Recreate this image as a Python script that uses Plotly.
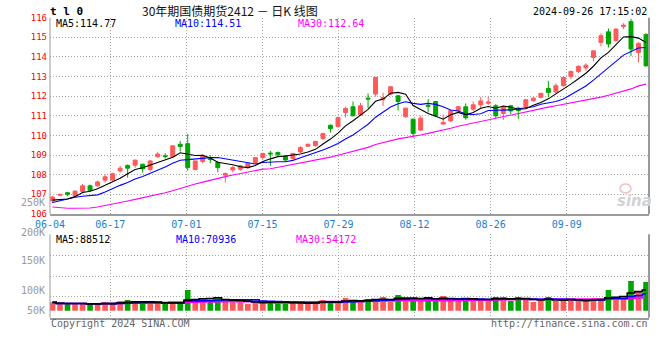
import plotly.graph_objects as go
import pandas as pd

W, H = 660, 360

# ---------------- data ----------------
holidays = ["2024-06-10", "2024-09-16", "2024-09-17"]
trade_days = [d for d in pd.bdate_range("2024-06-04", "2024-09-26")
              if d.strftime("%Y-%m-%d") not in holidays]
dates = [d.strftime("%m-%d") for d in trade_days]

opens = [106.66, 106.95, 107.08, 106.93, 107.14, 107.43, 107.43, 107.72, 107.73, 108.19,
         108.47, 108.48, 108.53, 108.26, 108.92, 108.96, 108.91, 109.55, 109.58, 108.26,
         108.67, 108.81, 108.62, 107.97, 108.24, 108.28, 108.36, 108.62, 108.87, 109.10,
         109.13, 108.96, 108.82, 109.16, 109.45, 109.48, 109.84, 110.52, 110.45, 111.17,
         111.46, 111.05, 111.90, 112.11, 111.82, 112.11, 112.02, 110.95, 110.83, 110.27,
         111.53, 111.73, 110.58, 110.74, 111.26, 111.46, 111.34, 111.56, 111.64, 111.51,
         111.12, 111.51, 111.39, 111.46, 111.77, 111.94, 112.39, 112.22, 112.53, 113.00,
         113.26, 113.44, 113.97, 114.74, 115.28, 114.83, 115.55, 115.80, 114.23, 115.15]
highs = [106.92, 107.04, 107.13, 107.20, 107.53, 107.50, 107.70, 108.00, 108.10, 108.45,
         108.52, 108.76, 108.56, 108.74, 109.15, 109.10, 109.50, 109.72, 110.08, 108.72,
         109.05, 108.99, 108.70, 108.10, 108.45, 108.50, 108.60, 108.90, 109.12, 109.21,
         109.18, 108.98, 109.12, 109.45, 109.58, 109.72, 110.12, 110.55, 110.95, 111.46,
         111.73, 111.65, 112.14, 112.98, 112.18, 112.52, 112.05, 111.42, 110.85, 111.00,
         111.85, 111.76, 111.07, 111.30, 111.50, 111.63, 111.73, 111.97, 111.97, 111.60,
         111.51, 111.56, 111.46, 111.85, 111.95, 112.18, 112.78, 112.65, 112.98, 113.30,
         113.58, 113.67, 114.35, 115.20, 115.45, 115.45, 115.72, 115.95, 114.75, 115.20]
lows = [106.55, 106.90, 106.90, 106.90, 107.05, 107.13, 107.38, 107.60, 107.70, 108.10,
        107.85, 108.35, 108.10, 108.16, 108.85, 108.82, 108.88, 109.18, 108.20, 108.22,
        108.58, 108.58, 108.14, 107.60, 108.12, 108.20, 108.30, 108.55, 108.80, 108.45,
        108.96, 108.68, 108.78, 109.10, 109.42, 109.43, 109.78, 110.15, 110.40, 110.91,
        110.98, 111.00, 111.39, 111.98, 111.51, 112.05, 111.26, 110.90, 109.89, 110.22,
        111.17, 110.95, 110.55, 110.70, 111.20, 110.80, 111.25, 111.34, 111.56, 110.88,
        110.78, 111.08, 110.85, 111.40, 111.70, 111.90, 111.94, 112.14, 112.50, 112.87,
        113.18, 113.30, 113.77, 114.54, 114.48, 114.80, 115.43, 114.05, 113.72, 113.50]
closes = [106.86, 106.99, 107.00, 107.16, 107.43, 107.20, 107.63, 107.89, 108.05, 108.33,
          108.33, 108.74, 108.30, 108.70, 109.05, 108.93, 109.47, 109.44, 108.36, 108.70,
          108.96, 108.77, 108.36, 108.06, 108.36, 108.45, 108.57, 108.87, 109.08, 109.06,
          109.01, 108.75, 109.08, 109.38, 109.55, 109.69, 110.10, 110.35, 110.91, 111.37,
          111.00, 111.51, 111.86, 112.96, 111.93, 112.48, 111.73, 111.39, 110.10, 110.88,
          111.49, 111.00, 110.66, 111.26, 111.46, 110.90, 111.56, 111.76, 111.70, 111.00,
          111.46, 111.25, 111.27, 111.82, 111.90, 112.14, 112.19, 112.53, 112.96, 113.26,
          113.52, 113.58, 114.31, 115.08, 114.66, 115.42, 115.62, 114.40, 114.69, 113.55]
volumes = [35000, 26600, 29400, 29400, 29400, 26600, 28000, 35000, 29400, 40600,
           44800, 35000, 35000, 29400, 35000, 29400, 35000, 35000, 86800, 49000,
           42000, 40600, 53200, 49000, 35000, 35000, 28000, 35000, 35000, 40600,
           29400, 29400, 35000, 35000, 29400, 35000, 44800, 40600, 30800, 53200,
           44800, 40600, 49000, 49000, 57400, 37800, 65800, 53200, 53200, 44800,
           53200, 40600, 61600, 44800, 40600, 53200, 49000, 49000, 44800, 57400,
           57400, 40600, 57400, 44800, 36400, 44800, 57400, 40600, 40600, 49000,
           40600, 40600, 53200, 49000, 86800, 53200, 57400, 124600, 78400, 120400]

# moving-average values visible at the start of the window
ma5_head = [106.70, 106.72, 106.76, 106.88]
ma10_head = [106.58, 106.68, 106.78, 106.85, 106.90, 106.92, 106.97, 107.12, 107.30]
ma30_head = [106.35, 106.31, 106.29, 106.29, 106.29, 106.30, 106.35, 106.42, 106.50, 106.58,
             106.66, 106.74, 106.82, 106.90, 106.98, 107.08, 107.18, 107.30, 107.42, 107.52,
             107.62, 107.72, 107.82, 107.90, 107.98, 108.05, 108.13, 108.20, 108.28]

price_ma_labels = ["MA5:114.77", "MA10:114.51", "MA30:112.64"]
vol_ma_labels = ["MA5:88512", "MA10:70936", "MA30:54172"]
vol_axis_labels = ["250K", "200K", "150K", "100K", "50K"]
title_text = "30年期国债期货2412 － 日K 线图"
symbol_text = "t l 0"
stamp_text = "2024-09-26 17:15:02"

# ---------------- derived ----------------
n = len(closes)
idx = list(range(n))
cs = pd.Series(closes)


def price_ma(head, k):
    roll = cs.rolling(k).mean().tolist()
    return head + roll[len(head):]


ma5 = price_ma(ma5_head, 5)
ma10 = price_ma(ma10_head, 10)
ma30 = price_ma(ma30_head, 30)

vs = pd.Series(volumes, dtype=float)
vma5 = vs.rolling(5, min_periods=1).mean().tolist()
vma10 = vs.rolling(10, min_periods=1).mean().tolist()
vma30 = vs.rolling(30, min_periods=1).mean().tolist()

UP = "#ff5a5a"
DN = "#00a600"
MA_COLORS = ["#000000", "#0000ff", "#ff00ff"]
MONO = "DejaVu Sans Mono"
GRID = "#a8a8a8"
AXIS = "#9a9a9a"
XLAB = "#1a7fd0"
vol_colors = [UP if c >= o else DN for o, c in zip(opens, closes)]

# ---------------- geometry (pixels) ----------------
PL, PR = 50, 649
MAIN_T, MAIN_B = 17.7, 213.9
VOL_T, VOL_B = 234.3, 317.7
X0, DX = 52.5, 7.513           # first candle centre, pixel spacing
x_lo = (PL - X0) / DX
x_hi = (PR - X0) / DX
GRID_X0, GRID_STEP = 110.3, 76.07
grid_x = [(GRID_X0 + k * GRID_STEP - X0) / DX for k in range(7)]
tickvals = [x_lo] + grid_x
ticktext = [dates[0]] + [dates[int(round(g))] for g in grid_x]

VOL_BASE_Y, K_PER_PX = 310.7, 4200.0
v_lo = -(VOL_B - VOL_BASE_Y) * K_PER_PX
v_hi = (VOL_BASE_Y - VOL_T) * K_PER_PX
v_grid = [v_lo + (v_hi - v_lo) * k / 4 for k in (1, 2, 3, 4)]


def fx(x):
    return x / W


def fy(y):
    return 1 - y / H


fig = go.Figure()

fig.add_trace(go.Candlestick(
    x=idx, open=opens, high=highs, low=lows, close=closes,
    increasing=dict(line=dict(color=UP, width=1), fillcolor=UP),
    decreasing=dict(line=dict(color=DN, width=1), fillcolor=DN),
    whiskerwidth=0, hoverinfo="skip", xaxis="x", yaxis="y"))

for vals, col in zip([ma30, ma10, ma5], MA_COLORS[::-1]):
    fig.add_trace(go.Scatter(x=idx, y=vals, mode="lines",
                             line=dict(color=col, width=1.1),
                             hoverinfo="skip", xaxis="x", yaxis="y"))

fig.add_trace(go.Bar(x=idx, y=volumes, marker=dict(color=vol_colors, line=dict(width=0)),
                     hoverinfo="skip", xaxis="x2", yaxis="y2"))
for vals, col in zip([vma30, vma10, vma5], MA_COLORS[::-1]):
    fig.add_trace(go.Scatter(x=idx, y=vals, mode="lines",
                             line=dict(color=col, width=1.6, shape="hvh"),
                             hoverinfo="skip", xaxis="x2", yaxis="y2"))

dom_x = [fx(PL), fx(PR)]
common_x = dict(domain=dom_x, range=[x_lo, x_hi], tickvals=tickvals, showgrid=True,
                gridcolor=GRID, griddash="1px,2px", gridwidth=1, zeroline=False,
                showline=True, linecolor=AXIS, linewidth=2, ticks="", fixedrange=True,
                automargin=False)

fig.update_layout(
    width=W, height=H, autosize=False,
    margin=dict(l=0, r=0, t=0, b=0, autoexpand=False),
    paper_bgcolor="white", plot_bgcolor="white",
    showlegend=False, bargap=0.25, boxgap=0.25,
    xaxis=dict(**common_x, anchor="y", ticktext=ticktext,
               tickfont=dict(family=MONO, size=10, color=XLAB),
               rangeslider=dict(visible=False)),
    yaxis=dict(domain=[fy(MAIN_B), fy(MAIN_T)], range=[106, 116], dtick=1, tick0=106,
               showgrid=True, gridcolor=GRID, griddash="1px,2px", zeroline=False,
               showline=False, ticks="", tickfont=dict(family=MONO, size=9, color="#ff0000"),
               ticklabelstandoff=2, fixedrange=True, automargin=False),
    xaxis2=dict(**common_x, anchor="y2", showticklabels=False),
    yaxis2=dict(domain=[fy(VOL_B), fy(VOL_T)], range=[v_lo, v_hi], tickvals=v_grid,
                showgrid=True, gridcolor=GRID, griddash="1px,2px", zeroline=False,
                showline=False, ticks="", showticklabels=False, fixedrange=True,
                automargin=False),
)

# frame lines (right side solid, left side thin) and the sina eye logo
shapes = []
for top, bot in [(MAIN_T, MAIN_B), (VOL_T, VOL_B)]:
    shapes.append(dict(type="line", xref="paper", yref="paper",
                       x0=fx(PR), x1=fx(PR), y0=fy(bot), y1=fy(top),
                       line=dict(color=AXIS, width=2)))
    shapes.append(dict(type="line", xref="paper", yref="paper",
                       x0=fx(PL), x1=fx(PL), y0=fy(bot), y1=fy(top),
                       line=dict(color=AXIS, width=1)))
shapes.append(dict(type="circle", xref="paper", yref="paper",
                   x0=fx(620), x1=fx(631), y0=fy(193), y1=fy(184),
                   line=dict(color="#f0c0c0", width=1.5)))
fig.update_layout(shapes=shapes)

ann = []


def txt(s, x, y, color, size, anchor="left", family=MONO):
    ann.append(dict(text=s, x=fx(x), y=fy(y), xref="paper", yref="paper",
                    xanchor=anchor, yanchor="middle", showarrow=False,
                    font=dict(family=family, size=size, color=color)))


txt("<b>" + symbol_text + "</b>", 48, 11.5, "#000000", 11)
txt(title_text, 140, 10.5, "#111111", 12, family="Noto Sans CJK SC")
txt(stamp_text, 649, 11.7, "#000000", 10, anchor="right")

for s, x, c in zip(price_ma_labels, [54, 173, 296], MA_COLORS):
    txt(s, x, 24, c, 10)
for s, x, c in zip(vol_ma_labels, [54, 174, 294], MA_COLORS):
    txt(s, x, 239.3, c, 10)

for s, y in zip(vol_axis_labels, [202, 232, 260.3, 290.3, 310.3]):
    txt(s, 47, y, "#999999", 10, anchor="right")

txt("Copyright 2024 SINA.COM", 49, 323, "#666666", 10)
txt("http://finance.sina.com.cn", 650, 323, "#666666", 10, anchor="right")

# sina watermark
txt("<b><i>sina</i></b>", 634, 201, "#d2d2d2", 15, anchor="center", family="DejaVu Sans")

fig.update_layout(annotations=ann)

fig.write_html("out.html", config={"displayModeBar": False},
               post_script="document.body.style.margin='0';document.body.style.padding='0';")
